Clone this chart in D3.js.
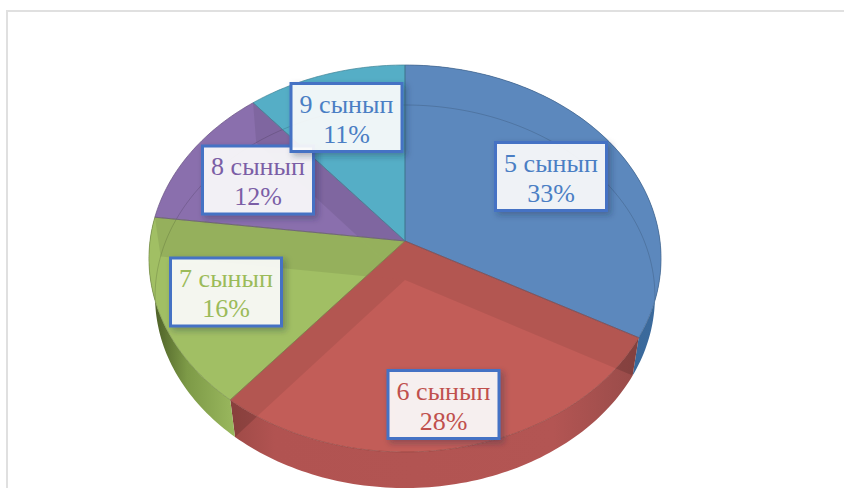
<!DOCTYPE html>
<html>
<head>
<meta charset="utf-8">
<script src="https://d3js.org/d3.v7.min.js"></script>
<style>
    html, body { margin: 0; padding: 0; background: #fff; overflow: hidden; }
    svg { display: block; }
    .label-text { font-family: "Liberation Serif", serif; font-size: 26px; text-anchor: middle; }
</style>
</head>
<body>
<svg id="chart" width="844" height="488"></svg>
<script>
// Section for Data
var categories = ["5 сынып", "6 сынып", "7 сынып", "8 сынып", "9 сынып"];
var percents = [33, 28, 16, 12, 11];

// Section for styles and layout
var faceColors = ["#5c88bd", "#c25d58", "#a1bf64", "#8a6fad", "#55aec6"];
var textColors = ["#4a7ec4", "#c0504d", "#9bbb59", "#7b5ea6", "#4a7ec4"];
var wallStops = [
    [["0", "#355f90"], ["1", "#3b6a9c"]],
    [["0", "#a04b48"], ["0.1", "#b15351"], ["0.8", "#b35553"], ["1", "#9a4c4a"]],
    [["0", "#4e6128"], ["0.4", "#7d9a47"], ["1", "#9ab85e"]]
];
// label box centres, measured from the pie apex
var labelOffsets = [[146, -64.5], [38.5, 163.5], [-179, 51], [-147, -61], [-58.5, -123.5]];
var boxWidth = 111;
var boxHeight = 68;

var width = 844;
var height = 488;

// The two faces of the disc, seen in perspective
var topFace = { cx: 405, cy: 241, rx: 255, ry: 191.9, k: 0.0904 };
var bottomFace = { cx: 405, cy: 280, rx: 249, ry: 190.1, k: 0.0862 };

var svg = d3.select("#chart");
var defs = svg.append("defs");

// Frame of the picture
svg.append("path")
    .attr("d", d3.line()([[7, height], [7, 11], [width, 11]]))
    .attr("fill", "none")
    .attr("stroke", "#e0e0e0")
    .attr("stroke-width", 2);

var slices = d3.pie().sort(null)(percents);

function project(face, angle) {
    var sx = Math.sin(angle);
    var sy = -Math.cos(angle);
    var w = 1 - face.k * sy;
    return [face.cx + face.rx * sx / w, face.cy + face.ry * sy / w];
}

function arcPoints(face, a0, a1) {
    var steps = Math.max(2, Math.ceil(Math.abs(a1 - a0) / 0.02));
    var angle = d3.scaleLinear().domain([0, steps]).range([a0, a1]);
    return d3.range(steps + 1).map(function (i) { return project(face, angle(i)); });
}

var line = d3.line();

function slicePath(face, d) {
    return line([[face.cx, face.cy]].concat(arcPoints(face, d.startAngle, d.endAngle))) + "Z";
}

function wallPath(d) {
    return line(arcPoints(topFace, d.startAngle, d.endAngle)
        .concat(arcPoints(bottomFace, d.endAngle, d.startAngle))) + "Z";
}

// Gradients and clips
slices.forEach(function (d, i) {
    if (i < wallStops.length) {
        var xs = arcPoints(bottomFace, d.startAngle, d.endAngle).map(function (p) { return p[0]; });
        var gradient = defs.append("linearGradient")
            .attr("id", "wall" + i)
            .attr("gradientUnits", "userSpaceOnUse")
            .attr("x1", d3.min(xs))
            .attr("x2", d3.max(xs))
            .attr("y1", 0)
            .attr("y2", 0);
        gradient.selectAll("stop")
            .data(wallStops[i])
            .enter().append("stop")
            .attr("offset", function (s) { return s[0]; })
            .attr("stop-color", function (s) { return s[1]; });
        defs.append("clipPath").attr("id", "clipWall" + i)
            .append("path").attr("d", wallPath(d));
    }
    defs.append("clipPath").attr("id", "clipTop" + i)
        .append("path").attr("d", slicePath(topFace, d));
});

defs.append("clipPath").attr("id", "clipDisc")
    .append("path").attr("d", line(arcPoints(topFace, 0, 2 * Math.PI)) + "Z");

var shadow = defs.append("filter")
    .attr("id", "boxShadow")
    .attr("x", "-20%").attr("y", "-20%")
    .attr("width", "150%").attr("height", "150%");
shadow.append("feDropShadow")
    .attr("dx", 3)
    .attr("dy", 3)
    .attr("stdDeviation", 3)
    .attr("flood-color", "#1f2a44")
    .attr("flood-opacity", 0.35);

// Side walls of the near half
var walls = svg.append("g").attr("class", "walls");
slices.slice(0, wallStops.length).forEach(function (d, i) {
    walls.append("path")
        .attr("d", wallPath(d))
        .attr("fill", "url(#wall" + i + ")");
    // bottom faces of the other slices show through the wall
    slices.forEach(function (o, j) {
        if (j !== i) {
            walls.append("path")
                .attr("clip-path", "url(#clipWall" + i + ")")
                .attr("d", slicePath(bottomFace, o))
                .attr("fill", "#000")
                .attr("opacity", 0.14);
        }
    });
});

// Top face
var faceGroup = svg.append("g").attr("class", "top-face");
slices.forEach(function (d, i) {
    faceGroup.append("path")
        .attr("d", slicePath(topFace, d))
        .attr("fill", faceColors[i]);
});

// Other slices seen through each top slice make the darker bands
slices.forEach(function (d, i) {
    var band = faceGroup.append("g").attr("clip-path", "url(#clipTop" + i + ")");
    slices.forEach(function (o, j) {
        if (j !== i) {
            band.append("path")
                .attr("d", slicePath(bottomFace, o))
                .attr("fill", "#000")
                .attr("opacity", 0.075);
            if (j > 2) {
                band.append("path")
                    .attr("d", wallPath(o))
                    .attr("fill", "#000")
                    .attr("opacity", 0.075);
            }
        }
    });
});

// Faint rim of the bottom face
faceGroup.append("path")
    .attr("clip-path", "url(#clipDisc)")
    .attr("d", line(arcPoints(bottomFace, 0, 2 * Math.PI)) + "Z")
    .attr("fill", "none")
    .attr("stroke", "#000")
    .attr("stroke-opacity", 0.14)
    .attr("stroke-width", 1);

// Slice edges
slices.forEach(function (d, i) {
    faceGroup.append("path")
        .attr("d", slicePath(topFace, d))
        .attr("fill", "none")
        .attr("stroke", d3.color(faceColors[i]).darker(0.8))
        .attr("stroke-opacity", 0.7)
        .attr("stroke-width", 1);
});

// Labels
var labels = svg.selectAll("g.label")
    .data(slices)
    .enter().append("g")
    .attr("class", "label")
    .attr("transform", function (d, i) {
        return "translate(" + (topFace.cx + labelOffsets[i][0]) + "," + (topFace.cy + labelOffsets[i][1]) + ")";
    });

labels.append("rect")
    .attr("x", -boxWidth / 2)
    .attr("y", -boxHeight / 2)
    .attr("width", boxWidth)
    .attr("height", boxHeight)
    .attr("fill", "#fff")
    .attr("fill-opacity", 0.89)
    .attr("stroke", "#4472c4")
    .attr("stroke-width", 3)
    .attr("filter", "url(#boxShadow)");

labels.append("text")
    .attr("class", "label-text")
    .attr("y", -5)
    .attr("fill", function (d, i) { return textColors[i]; })
    .text(function (d, i) { return categories[i]; });

labels.append("text")
    .attr("class", "label-text")
    .attr("y", 25)
    .attr("fill", function (d, i) { return textColors[i]; })
    .text(function (d) { return d.value + "%"; });
</script>
</body>
</html>
